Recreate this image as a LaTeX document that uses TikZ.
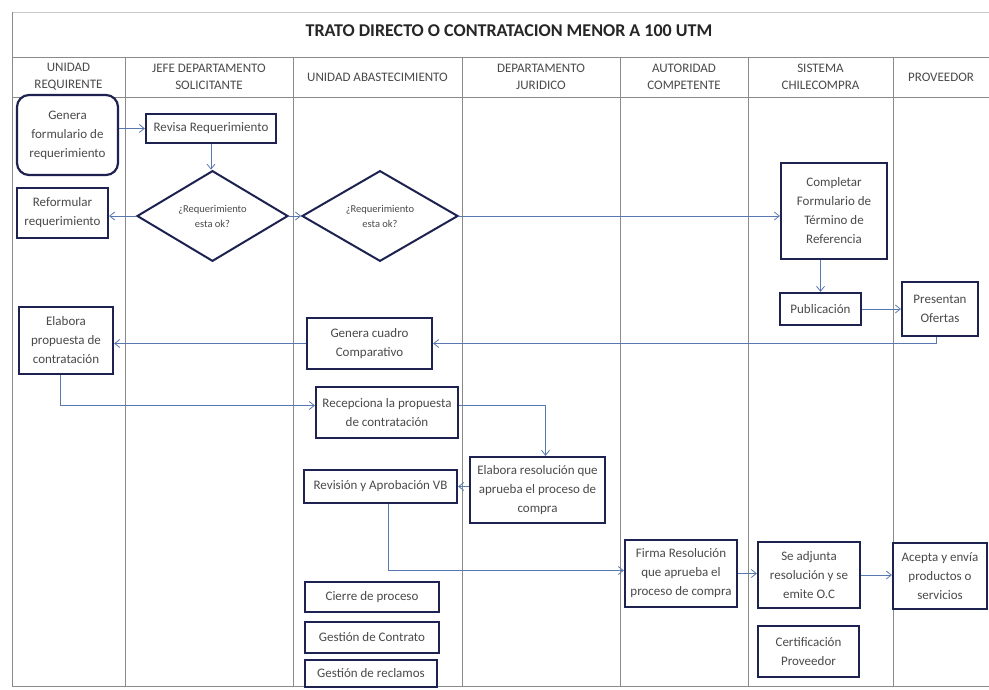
\documentclass[tikz,border=0pt]{standalone}
\usepackage{fontspec}
\setmainfont{Carlito}
\usetikzlibrary{shapes.geometric,arrows.meta}
\definecolor{boxline}{HTML}{1E2250}
\definecolor{arrowc}{HTML}{5A78B0}
\definecolor{lanec}{HTML}{8A8A8A}
\definecolor{txt}{HTML}{4A4A4A}
\begin{document}
\begin{tikzpicture}[x=1pt,y=-1pt,
 box/.style={draw=boxline,line width=2.2pt,fill=white,align=center,inner sep=2pt,font=\fontsize{13}{19}\selectfont,text=txt},
 dec/.style={diamond,draw=boxline,line width=2pt,fill=white,align=center,inner sep=0pt,font=\fontsize{10.5}{15}\selectfont,text=txt},
 conn/.style={draw=arrowc,line width=0.8pt,-{Straight Barb[length=5pt,width=8pt]}},
 lane/.style={draw=lanec,line width=0.8pt},
 head/.style={align=center,font=\fontsize{13}{17}\selectfont,text=txt}]
\useasboundingbox (0,0) rectangle (989,690);
\fill[white] (0,0) rectangle (989,690);
% frame and lanes
\draw[lanec!45,line width=0.8pt] (12,12) -- (989,12);
\draw[lane] (12,12) -- (12,686);
\draw[lane] (12,57) -- (989,57);
\draw[lane] (12,97) -- (989,97);
\draw[lane] (12,686) -- (989,686);
\foreach \xx in {125,293,462,620,748,893} {\draw[lane] (\xx,57) -- (\xx,686);}
% title and headers
\node[font=\fontsize{18}{20}\selectfont\bfseries,text=black!85] (title) at (509,31) {TRATO DIRECTO O CONTRATACION MENOR A 100 UTM};
\node[head] (h1) at (68.5,77) {UNIDAD\\REQUIRENTE};
\node[head] (h2) at (209,77) {JEFE DEPARTAMENTO\\SOLICITANTE};
\node[head] (h3) at (377.5,77) {UNIDAD ABASTECIMIENTO};
\node[head] (h4) at (541,77) {DEPARTAMENTO\\JURIDICO};
\node[head] (h5) at (684,77) {AUTORIDAD\\COMPETENTE};
\node[head] (h6) at (820.5,77) {SISTEMA\\CHILECOMPRA};
\node[head] (h7) at (941,77) {PROVEEDOR};
% boxes
\node[box,rounded corners=12pt,minimum width=101pt,minimum height=80pt] (gen) at (67.5,135) {Genera\\formulario de\\requerimiento};
\node[box,minimum width=130pt,minimum height=29pt] (rev) at (211,128.5) {Revisa Requerimiento};
\node[dec,minimum width=151pt,minimum height=78pt] (d1) at (212.5,216) {¿Requerimiento\\esta ok?};
\node[box,minimum width=91pt,minimum height=50pt] (ref) at (62.5,213) {Reformular\\requerimiento};
\node[dec,minimum width=156pt,minimum height=80pt] (d2) at (380,216) {¿Requerimiento\\esta ok?};
\node[box,minimum width=106pt,minimum height=96pt] (comp) at (834,211) {Completar\\Formulario de\\Término de\\Referencia};
\node[box,minimum width=81pt,minimum height=32pt] (pub) at (820.5,309) {Publicación};
\node[box,minimum width=76pt,minimum height=54pt] (pres) at (940,309) {Presentan\\Ofertas};
\node[box,minimum width=94pt,minimum height=67pt] (elab) at (66,340.5) {Elabora\\propuesta de\\contratación};
\node[box,minimum width=125pt,minimum height=51pt] (cuadro) at (369.5,343.5) {Genera cuadro\\Comparativo};
\node[box,minimum width=142pt,minimum height=51pt] (recep) at (387,412.5) {Recepciona la propuesta\\de contratación};
\node[box,minimum width=135pt,minimum height=66pt] (resol) at (537.5,490) {Elabora resolución que\\aprueba el proceso de\\compra};
\node[box,minimum width=153pt,minimum height=33pt] (revis) at (380.5,486.5) {Revisión y Aprobación VB};
\node[box,minimum width=134pt,minimum height=30pt] (cierre) at (372,597) {Cierre de proceso};
\node[box,minimum width=134pt,minimum height=31pt] (gcont) at (372,637.5) {Gestión de Contrato};
\node[box,minimum width=132pt,minimum height=27pt] (grecl) at (371,673.5) {Gestión de reclamos};
\node[box,minimum width=112pt,minimum height=67pt] (firma) at (681,573.5) {Firma Resolución\\que aprueba el\\proceso de compra};
\node[box,minimum width=102pt,minimum height=66pt] (adj) at (809,575) {Se adjunta\\resolución y se\\emite O.C};
\node[box,minimum width=94pt,minimum height=66pt] (acepta) at (940,576) {Acepta y envía\\productos o\\servicios};
\node[box,minimum width=101pt,minimum height=51pt] (cert) at (808.5,651.5) {Certificación\\Proveedor};
% connectors
\draw[conn] (gen.east |- rev.west) -- (rev.west);
\draw[conn] (rev.south) -- (rev.south |- d1.north);
\draw[conn] (d1.west) -- (d1.west -| ref.east);
\draw[conn] (d1.east) -- (d2.west);
\draw[conn] (d2.east) -- (d2.east -| comp.west);
\draw[conn] (pub.north |- comp.south) -- (pub.north);
\draw[conn] (pub.east) -- (pub.east -| pres.west);
\draw[conn] ([xshift=-4pt]pres.south) |- (cuadro.east);
\draw[conn] (cuadro.west) -- (cuadro.west -| elab.east);
\draw[conn] ([xshift=-6pt]elab.south) |- ([yshift=7pt]recep.west);
\draw[conn] ([yshift=7pt]recep.east) -| ([xshift=8pt]resol.north);
\draw[conn] (resol.west |- revis.east) -- (revis.east);
\draw[conn] ([xshift=8pt]revis.south) |- ([yshift=3pt]firma.west);
\draw[conn] (firma.east) -- (firma.east -| adj.west);
\draw[conn] (adj.east) -- (adj.east -| acepta.west);
\end{tikzpicture}
\end{document}
